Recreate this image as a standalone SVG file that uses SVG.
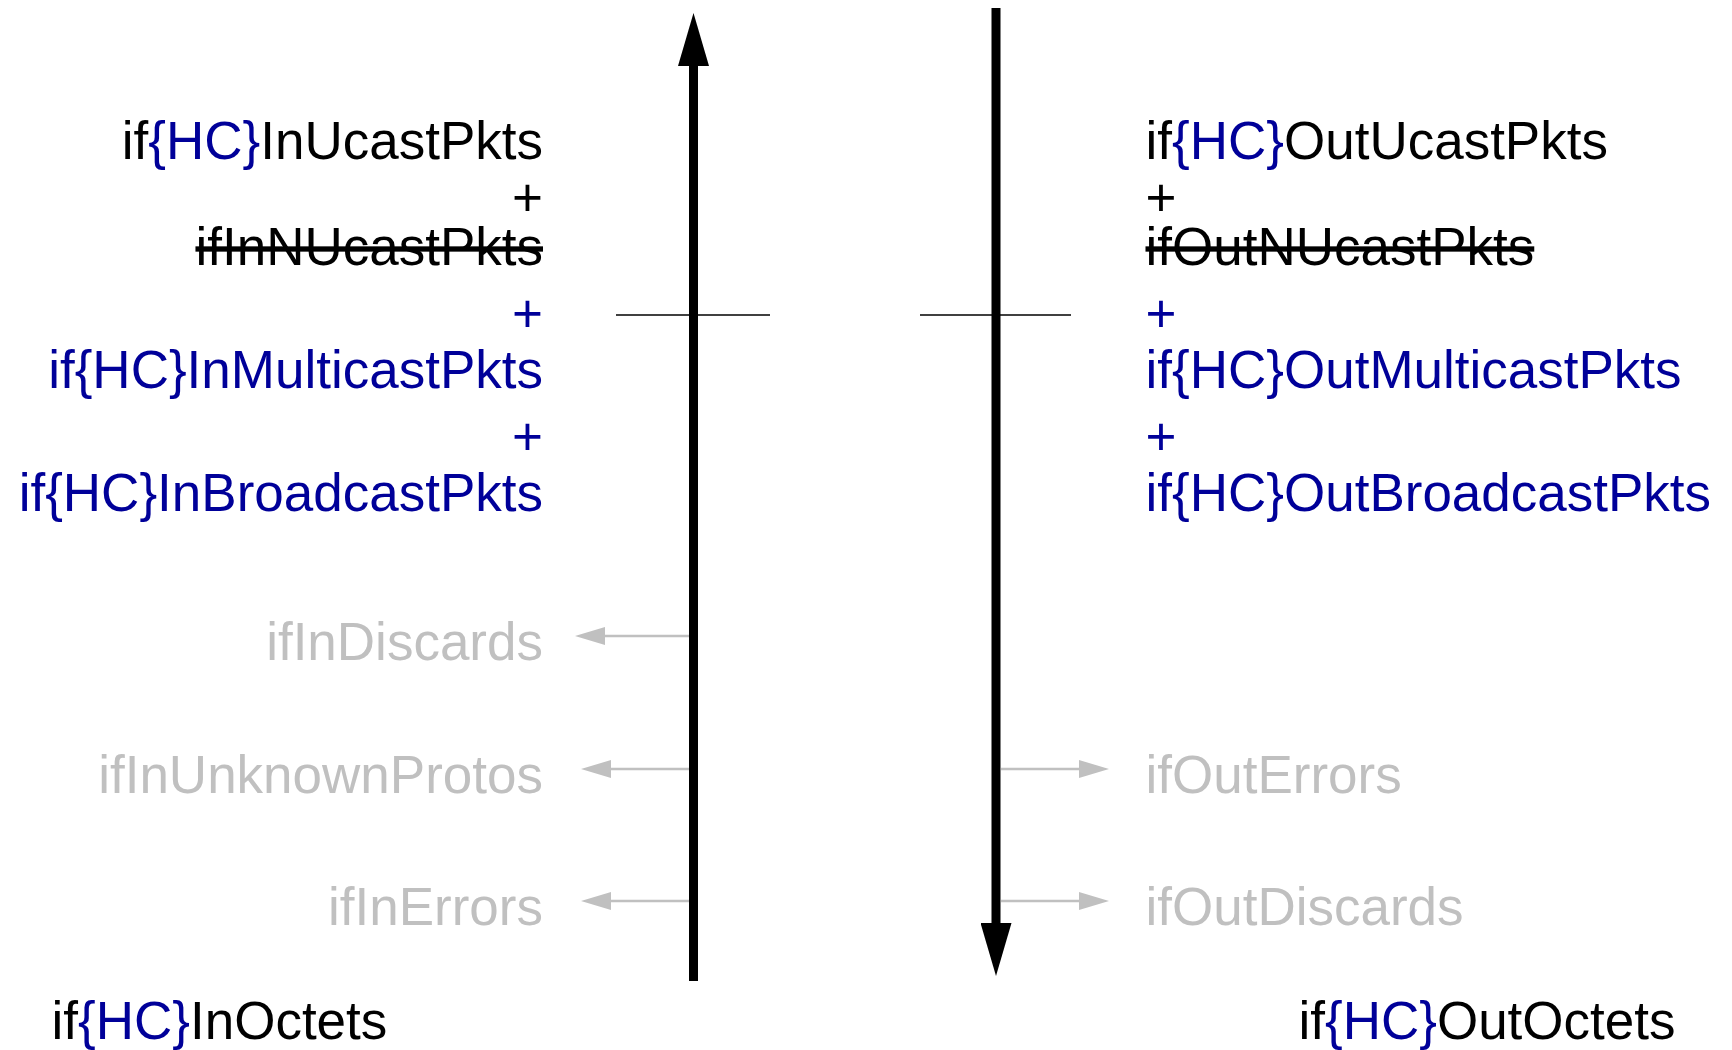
<svg xmlns="http://www.w3.org/2000/svg" width="1732" height="1050" viewBox="0 0 1732 1050">
<style>
text{font-family:"Liberation Sans",Arial,Helvetica,sans-serif;font-size:53px;fill:#000}
.b{fill:#000099}
.g{fill:#c0c0c0}
.r{text-anchor:end}
.s{text-decoration:line-through}
.main{stroke:#000;stroke-width:9;fill:none}
.bar{stroke:#000;stroke-width:1.5;fill:none}
.ga{stroke:#c0c0c0;stroke-width:2.5;fill:none}
</style>
<defs>
<marker id="bigHead" markerUnits="userSpaceOnUse" viewBox="0 0 53 31" refX="0" refY="15.5" markerWidth="53" markerHeight="31" orient="auto">
<path d="M0,0 L53,15.5 L0,31 Z" fill="#000"/>
</marker>
<marker id="grayHead" markerUnits="userSpaceOnUse" viewBox="0 0 30 18" refX="0" refY="9" markerWidth="30" markerHeight="18" orient="auto">
<path d="M0,0 L30,9 L0,18 Z" fill="#c0c0c0"/>
</marker>
</defs>
<g id="connectors">
<line class="main" x1="693.5" y1="981" x2="693.5" y2="66" marker-end="url(#bigHead)"/>
<line class="main" x1="996" y1="8" x2="996" y2="923" marker-end="url(#bigHead)"/>
<line class="bar" x1="616" y1="315" x2="770" y2="315"/>
<line class="bar" x1="920" y1="315" x2="1071" y2="315"/>
<line class="ga" x1="689" y1="636" x2="605" y2="636" marker-end="url(#grayHead)"/>
<line class="ga" x1="689" y1="769" x2="611" y2="769" marker-end="url(#grayHead)"/>
<line class="ga" x1="689" y1="901" x2="611" y2="901" marker-end="url(#grayHead)"/>
<line class="ga" x1="1001" y1="769" x2="1079" y2="769" marker-end="url(#grayHead)"/>
<line class="ga" x1="1001" y1="901" x2="1079" y2="901" marker-end="url(#grayHead)"/>
</g>
<g id="in-counters">
<text class="r" x="543" y="159">if<tspan class="b">{HC}</tspan>InUcastPkts</text>
<text class="r" x="543" y="216">+</text>
<text class="r s" x="543" y="265">ifInNUcastPkts</text>
<text class="r b" x="543" y="332">+</text>
<text class="r b" x="543" y="388">if{HC}InMulticastPkts</text>
<text class="r b" x="543" y="455">+</text>
<text class="r b" x="543" y="511">if{HC}InBroadcastPkts</text>
</g>
<g id="out-counters">
<text x="1145.5" y="159">if<tspan class="b">{HC}</tspan>OutUcastPkts</text>
<text x="1145.5" y="216">+</text>
<text class="s" x="1145.5" y="265">ifOutNUcastPkts</text>
<text class="b" x="1145.5" y="332">+</text>
<text class="b" x="1145.5" y="388">if{HC}OutMulticastPkts</text>
<text class="b" x="1145.5" y="455">+</text>
<text class="b" x="1145.5" y="511">if{HC}OutBroadcastPkts</text>
</g>
<g id="in-discards"><text class="r g" x="543" y="660">ifInDiscards</text></g>
<g id="in-unknown"><text class="r g" x="543" y="793">ifInUnknownProtos</text></g>
<g id="in-errors"><text class="r g" x="543" y="925">ifInErrors</text></g>
<g id="out-errors"><text class="g" x="1145.5" y="793">ifOutErrors</text></g>
<g id="out-discards"><text class="g" x="1145.5" y="925">ifOutDiscards</text></g>
<g id="in-octets"><text x="51.5" y="1039">if<tspan class="b">{HC}</tspan>InOctets</text></g>
<g id="out-octets"><text class="r" x="1675.5" y="1039">if<tspan class="b">{HC}</tspan>OutOctets</text></g>
</svg>
